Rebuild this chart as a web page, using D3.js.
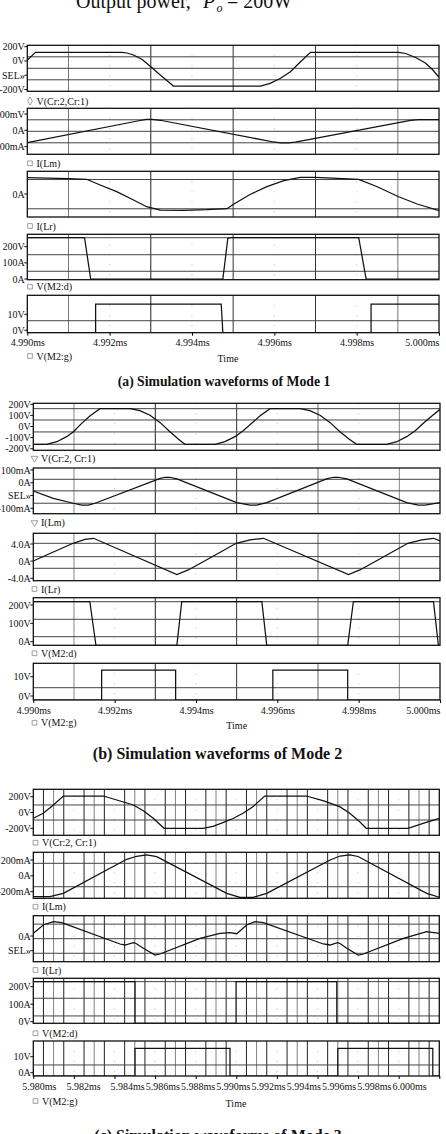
<!DOCTYPE html>
<html>
<head>
<meta charset="utf-8">
<script src="https://cdn.jsdelivr.net/npm/d3@7"></script>
<style>
  body { margin: 0; background: #fff; }
  svg { display: block; overflow: hidden; }
  text { font-family: "Liberation Serif", "Times New Roman", serif; fill: #111; }
</style>
</head>
<body>
<div id="chart"></div>
<script>
// time in microseconds, values in V, mA or A
var timeTicksA = [4990, 4992, 4994, 4996, 4998, 5000];
var timeTicksB = [4990, 4992, 4994, 4996, 4998, 5000];
var timeTicksC = [5980, 5982, 5984, 5986, 5988, 5990, 5992, 5994, 5996, 5998, 6000];

var legendA = ['V(Cr:2,Cr:1)', 'I(Lm)', 'I(Lr)', 'V(M2:d)', 'V(M2:g)'];
var legendB = ['V(Cr:2, Cr:1)', 'I(Lm)', 'I(Lr)', 'V(M2:d)', 'V(M2:g)'];
var legendC = ['V(Cr:2, Cr:1)', 'I(Lm)', 'I(Lr)', 'V(M2:d)', 'V(M2:g)'];

var yLabelsA = [['200V', '0V', 'SEL»', '-200V'], ['100mV', '0A', '-100mA'], ['0A'], ['200V', '100A', '0A'], ['10V', '0V']];
var yLabelsB = [['200V', '100V', '0V', '-100V', '-200V'], ['100mA', '0A', 'SEL»', '-100mA'], ['4.0A', '0A', '-4.0A'], ['200V', '100V', '0A'], ['10V', '0V']];
var yLabelsC = [['200V', '0V', '-200V'], ['200mA', '0A', '-200mA'], ['0A', 'SEL»'], ['200V', '100A', '0V'], ['10V', '0A']];

var captions = ['(a) Simulation waveforms of Mode 1', '(b) Simulation waveforms of Mode 2', '(c) Simulation waveforms of Mode 3'];

// mode 1
var vcrA = [[4990.00, 83], [4990.20, 160], [4992.30, 160], [4992.42, 153], [4992.58, 133], [4992.79, 88], [4993.00, 16], [4993.23, -67], [4993.39, -122], [4993.55, -177], [4995.66, -177], [4995.90, -150], [4996.15, -100], [4996.39, -34], [4996.63, 63], [4996.88, 160], [4999.02, 160], [4999.19, 148], [4999.43, 108], [4999.67, 53], [4999.84, -12], [5000.00, -90]];
var ilmA = [[4990.00, -99], [4992.74, 94], [4992.89, 103], [4993.03, 104], [4993.23, 96], [4995.98, -93], [4996.15, -100], [4996.34, -100], [4996.51, -95], [4999.31, 94], [4999.50, 101], [5000.00, 101]];
var ilrA = [[4990.00, 3.60], [4991.00, 3.38], [4991.44, 3.25], [4991.77, 2.00], [4992.17, 0.54], [4992.58, -1.28], [4992.90, -2.75], [4993.23, -3.47], [4993.79, -3.53], [4994.36, -3.40], [4994.85, -3.18], [4995.01, -2.22], [4995.42, -0.03], [4995.82, 1.63], [4996.23, 2.94], [4996.63, 3.69], [4997.00, 3.69], [4998.05, 3.25], [4998.50, 1.63], [4999.02, -0.56], [4999.47, -2.16], [5000.00, -3.62]];
var vdsA = [[4990.00, 255], [4991.39, 255], [4991.54, 0], [4994.75, 0], [4994.87, 250], [4994.93, 255], [4998.05, 255], [4998.23, 0], [5000.00, 0]];
var vgsA = [[4990.00, 0], [4991.66, 0], [4991.66, 15.3], [4994.71, 15.3], [4994.75, 0], [4998.35, 0], [4998.35, 15.3], [5000.00, 15.3]];

// mode 2
var vcrB = [[4990.00, -156], [4990.33, -156], [4990.58, -133], [4990.82, -88], [4990.98, -46], [4991.19, 31], [4991.39, 97], [4991.64, 162], [4992.38, 162], [4992.62, 144], [4992.87, 103], [4993.12, 37], [4993.36, -44], [4993.57, -112], [4993.73, -156], [4994.47, -156], [4994.71, -133], [4994.96, -88], [4995.16, -35], [4995.37, 31], [4995.57, 97], [4995.82, 162], [4996.56, 162], [4996.80, 144], [4997.05, 103], [4997.30, 37], [4997.54, -44], [4997.77, -112], [4997.95, -156], [4998.69, -156], [4998.94, -133], [4999.18, -88], [4999.39, -35], [4999.59, 31], [4999.80, 97], [5000.00, 156]];
var ilmB = [[4990.00, -1], [4990.49, -62], [4990.98, -103], [4991.19, -118], [4991.35, -118], [4991.52, -103], [4993.12, 104], [4993.24, 113], [4993.36, 113], [4993.53, 99], [4995.00, -98], [4995.33, -118], [4995.49, -118], [4995.74, -98], [4997.21, 99], [4997.38, 113], [4997.50, 113], [4997.71, 99], [4999.18, -98], [4999.47, -118], [4999.63, -118], [5000.00, -98]];
var ilrB = [[4990.00, -1.29], [4990.41, 0.96], [4990.98, 4.01], [4991.27, 5.15], [4991.48, 5.51], [4993.53, -5.39], [4993.81, -3.98], [4994.21, -1.29], [4994.99, 4.01], [4995.33, 5.00], [4995.66, 5.51], [4997.75, -5.39], [4998.03, -3.98], [4998.43, -1.29], [4999.21, 4.01], [4999.55, 5.00], [4999.84, 5.51], [5000.00, 4.70]];
var vdsB = [[4990.00, 238], [4991.39, 238], [4991.54, 0], [4993.53, 0], [4993.65, 238], [4995.62, 238], [4995.74, 0], [4997.73, 0], [4997.87, 238], [4999.84, 238], [4999.96, 0], [5000.00, 0]];
var vgsB = [[4990.00, 0], [4991.68, 0], [4991.68, 16.3], [4993.50, 16.3], [4993.50, 0], [4995.89, 0], [4995.89, 16.3], [4997.73, 16.3], [4997.73, 0], [5000.00, 0]];

// mode 3
var vcrC = [[5980.00, -77], [5980.49, -13], [5980.99, 94], [5981.48, 209], [5983.45, 209], [5984.11, 158], [5984.93, 94], [5985.42, 21], [5985.91, -77], [5986.44, -205], [5988.37, -205], [5988.85, -180], [5989.34, -133], [5989.84, -79], [5990.33, -13], [5990.82, 72], [5991.40, 209], [5993.45, 209], [5994.27, 149], [5995.09, 72], [5995.59, -13], [5996.08, -121], [5996.40, -205], [5998.46, -205], [5999.20, -141], [6000.00, -77]];
var ilmC = [[5980.00, -270], [5980.82, -270], [5981.48, -227], [5984.60, 202], [5985.09, 240], [5985.59, 256], [5986.08, 235], [5989.53, -227], [5990.18, -277], [5990.84, -277], [5991.50, -227], [5994.62, 193], [5995.11, 243], [5995.59, 256], [5996.00, 237], [5999.38, -227], [6000.00, -277]];
var ilrC = [[5980.00, 1.41], [5980.49, 3.57], [5980.99, 4.44], [5981.40, 4.17], [5984.27, -1.38], [5984.52, -1.64], [5984.93, -1.04], [5985.06, -1.25], [5985.42, -2.50], [5986.00, -4.25], [5986.24, -3.99], [5988.21, 0.10], [5989.20, 1.41], [5989.69, 1.57], [5990.02, 1.30], [5990.51, 3.57], [5990.92, 4.44], [5991.33, 4.17], [5994.29, -1.38], [5994.62, -1.64], [5994.98, -1.04], [5995.11, -1.25], [5995.44, -2.50], [5996.01, -4.25], [5996.26, -3.99], [5998.23, 0.10], [5999.38, 1.83], [6000.00, 1.41]];
var vdsC = [[5980.00, 238], [5985.01, 238], [5985.01, 0], [5989.99, 0], [5989.99, 238], [5994.95, 238], [5994.95, 0], [6000.00, 0]];
var vgsC = [[5980.00, 0], [5985.01, 0], [5985.01, 15.8], [5989.69, 15.8], [5989.69, 0], [5995.00, 0], [5995.00, 15.8], [5999.68, 15.8], [5999.68, 0], [6000.00, 0]];

// layout of the three panels
var panels = [
  {
    time: [4990, 5000], left: 27.3, right: 439, ticks: timeTicksA,
    vgrid: [4991, 4993, 4995, 4997, 4999],
    vgridColor: function(d, j) { return ['#777', '#222', '#333', '#333', '#777'][j]; },
    legend: legendA, yLabels: yLabelsA, series: [vcrA, ilmA, ilrA, vdsA, vgsA],
    markers: ['diamond', 'square', 'square', 'square', 'square'],
    legendX: 30, timeX: 228, timeY: 358.5, caption: {x: 224, y: 381, size: 13.7},
    plots: [
      {frame: [45.3, 91.3], y: [-230, 230], hgrid: [115, 0, -115], labelY: [46.7, 89.5], legendY: 101},
      {frame: [108.3, 154.3], y: [-200, 200], hgrid: [100, 0, -100], labelY: [114, 146.7], legendY: 163.3},
      {frame: [171.3, 217], y: [-5, 5], hgrid: [3.2, -3.2], labelY: [194, 194], legendY: 226},
      {frame: [234.3, 279.7], y: [-4, 276], hgrid: [255, 150, 48], labelY: [246.7, 279], legendY: 286.7},
      {frame: [295.3, 332.7], y: [0, 20], hgrid: [6.4], labelY: [314.3, 330.3], legendY: 356}
    ]
  },
  {
    time: [4990, 5000], left: 33.3, right: 440, ticks: timeTicksB,
    vgrid: [4991, 4993, 4995, 4997, 4999],
    vgridColor: function(d, j) { return ['#888', '#222', '#333', '#666', '#888'][j]; },
    legend: legendB, yLabels: yLabelsB, series: [vcrB, ilmB, ilrB, vdsB, vgsB],
    markers: ['triangle', 'triangle', 'square', 'square', 'square'],
    legendX: 34.5, timeX: 236.7, timeY: 725, caption: {x: 217.5, y: 753, size: 16},
    plots: [
      {frame: [403.3, 450.3], y: [-210, 210], hgrid: [162, 61, -46, -156], labelY: [404.3, 448.7], legendY: 458.3},
      {frame: [468, 513.7], y: [-190, 190], hgrid: [96, 0, -103], labelY: [470, 508.3], legendY: 522.7},
      {frame: [533.3, 580.7], y: [-7.2, 7], hgrid: [4, 0, -3.48], labelY: [544, 578.3], legendY: 589},
      {frame: [597.7, 645.3], y: [0, 260], hgrid: [238, 142, 47], labelY: [605, 641.7], legendY: 653.3},
      {frame: [663.3, 700], y: [0, 20], hgrid: [6.7], labelY: [676.7, 696], legendY: 722.7}
    ]
  },
  {
    time: [5980, 6000], left: 33.3, right: 439.3, ticks: timeTicksC,
    labelScale: {domain: [5980, 5982, 5984, 6000], range: [38.8, 83, 127, 409]},
    vgrid: d3.range(5980.5, 6000, 0.5).filter(function(v) { return v % 2 !== 0; }),
    vgridColor: function(d) { return d % 1 === 0 ? '#808080' : '#222'; },
    legend: legendC, yLabels: yLabelsC, series: [vcrC, ilmC, ilrC, vdsC, vgsC],
    markers: ['square', 'square', 'square', 'square', 'square'],
    legendX: 35.5, timeX: 236, timeY: 1103.3, caption: {x: 218, y: 1135, size: 16},
    plots: [
      {frame: [789.3, 835.3], y: [-295, 295], hgrid: [94, -99], labelY: [796.7, 828.3], legendY: 842.7},
      {frame: [852.3, 898.3], y: [-290, 290], hgrid: [151, -144], labelY: [860, 891.7], legendY: 906.7},
      {frame: [915.7, 961.7], y: [-6, 6], hgrid: [3.8, 0, -3.8], labelY: [936, 950.7], legendY: 970},
      {frame: [978.3, 1023.3], y: [0, 257], hgrid: [238, 143, 42], labelY: [986.7, 1021.7], legendY: 1033.3},
      {frame: [1041, 1076], y: [0, 20], hgrid: [6.3], labelY: [1056.7, 1072.7], legendY: 1101}
    ]
  }
];

var symbols = {
  square: d3.symbol().type(d3.symbolSquare).size(22),
  triangle: d3.symbol().type(d3.symbolTriangle).size(20),
  diamond: d3.symbol().type(d3.symbolDiamond).size(20)
};

var svg = d3.select('#chart')
  .append('svg')
  .attr('width', 446)
  .attr('height', 1134);

// title, cut off at the top of the picture
var title = svg.append('text').attr('y', 7.5).attr('font-size', 20);
title.append('tspan').attr('x', 76).text('Output power,');
title.append('tspan').attr('x', 203).attr('font-style', 'italic').text('P');
title.append('tspan').attr('x', 216.5).attr('dy', 4.5).attr('font-size', 12).attr('font-style', 'italic').text('o');
title.append('tspan').attr('x', 227).attr('dy', -4.5).text('= 200W');

panels.forEach(function(p, pi) {
  var x_scale = d3.scaleLinear().domain(p.time).range([p.left, p.right]);
  var minor = p.ticks.slice(1, -1);

  p.plots.forEach(function(pl, i) {
    var top = pl.frame[0], bottom = pl.frame[1];
    var y_scale = d3.scaleLinear().domain(pl.y).range([bottom, top]);
    var g = svg.append('g');
    var clip_id = 'clip' + pi + '_' + i;

    g.append('clipPath').attr('id', clip_id)
      .append('rect')
      .attr('x', p.left).attr('y', top)
      .attr('width', p.right - p.left).attr('height', bottom - top);

    // dotted lines at the time ticks
    g.selectAll('.minor').data(minor).enter().append('line')
      .attr('x1', (d) => x_scale(d)).attr('x2', (d) => x_scale(d))
      .attr('y1', top).attr('y2', bottom)
      .attr('stroke', '#bdbdbd').attr('stroke-dasharray', '1,9');

    // grid
    g.selectAll('.vgrid').data(p.vgrid).enter().append('line')
      .attr('x1', (d) => x_scale(d)).attr('x2', (d) => x_scale(d))
      .attr('y1', top).attr('y2', bottom)
      .attr('stroke', p.vgridColor).attr('stroke-width', 1);

    g.selectAll('.hgrid').data(pl.hgrid).enter().append('line')
      .attr('x1', p.left).attr('x2', p.right)
      .attr('y1', (d) => y_scale(d)).attr('y2', (d) => y_scale(d))
      .attr('stroke', '#444').attr('stroke-width', 1);

    // waveform
    g.append('path')
      .datum(p.series[i])
      .attr('clip-path', 'url(#' + clip_id + ')')
      .attr('d', d3.line().x((d) => x_scale(d[0])).y((d) => y_scale(d[1])))
      .attr('fill', 'none')
      .attr('stroke', '#111')
      .attr('stroke-width', 1.25);

    // frame
    g.append('rect')
      .attr('x', p.left).attr('y', top)
      .attr('width', p.right - p.left).attr('height', bottom - top)
      .attr('fill', 'none').attr('stroke', '#111').attr('stroke-width', 1.3);

    // y labels, spread evenly along the left edge
    var labels = p.yLabels[i];
    var label_scale = d3.scalePoint().domain(d3.range(labels.length)).range(pl.labelY);
    g.selectAll('.ytick').data(labels).enter().append('line')
      .attr('x1', p.left - 3).attr('x2', p.left)
      .attr('y1', (d, j) => label_scale(j)).attr('y2', (d, j) => label_scale(j))
      .attr('stroke', '#111');
    g.selectAll('.ylabel').data(labels).enter().append('text')
      .attr('x', p.left - 2.5)
      .attr('y', (d, j) => label_scale(j))
      .attr('dy', '0.35em')
      .attr('text-anchor', 'end')
      .attr('font-size', 10)
      .text((d) => d);

    // legend under the plot
    g.append('path')
      .attr('d', symbols[p.markers[i]]())
      .attr('transform', 'translate(' + p.legendX + ',' + pl.legendY + ')' + (p.markers[i] === 'triangle' ? ' rotate(180)' : ''))
      .attr('fill', 'none').attr('stroke', '#888').attr('stroke-width', 0.8);
    g.append('text')
      .attr('x', p.legendX + 6.5).attr('y', pl.legendY).attr('dy', '0.35em')
      .attr('font-size', 10)
      .text(p.legend[i]);
  });

  // time axis
  var bottom = p.plots[p.plots.length - 1].frame[1];
  var fmt = (d) => (d / 1000).toFixed(3) + 'ms';
  var axis_g = svg.append('g')
    .attr('transform', 'translate(0,' + bottom + ')');

  if (p.labelScale) {
    var lab_scale = d3.scaleLinear().domain(p.labelScale.domain).range(p.labelScale.range);
    axis_g.call(d3.axisBottom(x_scale).tickValues(p.ticks).tickFormat('').tickSize(3));
    var lab_g = svg.append('g')
      .attr('transform', 'translate(0,' + bottom + ')')
      .call(d3.axisBottom(lab_scale).tickValues(p.ticks).tickFormat(fmt).tickSize(0).tickPadding(6.5));
    lab_g.select('.domain').remove();
    lab_g.selectAll('line').remove();
    lab_g.attr('font-family', '"Liberation Serif", serif').attr('font-size', 10);
  } else {
    axis_g.call(d3.axisBottom(x_scale).tickValues(p.ticks).tickFormat(fmt).tickSize(3).tickPadding(3.5));
    axis_g.selectAll('.tick:last-of-type text').attr('text-anchor', 'end');
  }
  axis_g.select('.domain').remove();
  axis_g.attr('font-family', '"Liberation Serif", serif').attr('font-size', 10);

  svg.append('text')
    .attr('x', p.timeX).attr('y', p.timeY).attr('dy', '0.35em')
    .attr('text-anchor', 'middle').attr('font-size', 10)
    .text('Time');

  svg.append('text')
    .attr('x', p.caption.x).attr('y', p.caption.y).attr('dy', '0.35em')
    .attr('text-anchor', 'middle')
    .attr('font-size', p.caption.size)
    .attr('font-weight', 'bold')
    .text(captions[pi]);
});
</script>
</body>
</html>
